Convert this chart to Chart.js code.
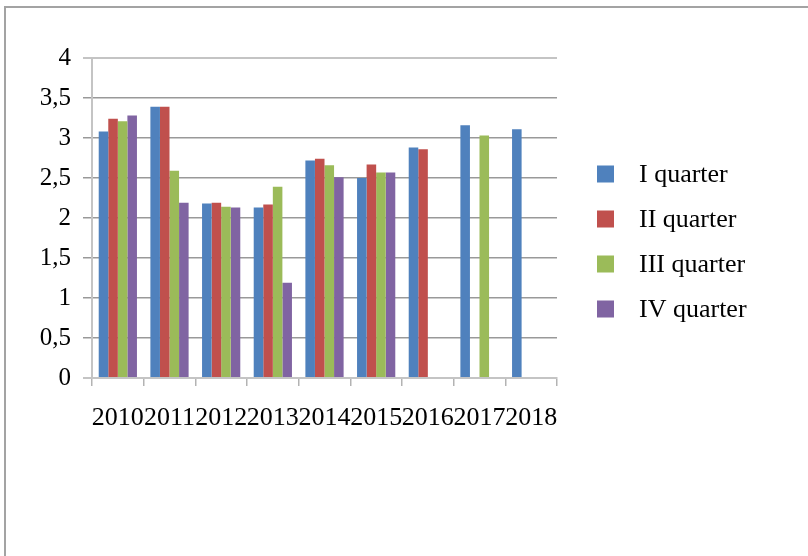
<!DOCTYPE html>
<html>
<head>
<meta charset="utf-8">
<script src="https://cdn.jsdelivr.net/npm/chart.js@4/dist/chart.umd.min.js"></script>
<style>
  html, body { margin: 0; padding: 0; background: #ffffff; }
  #wrap { position: relative; width: 808px; height: 556px; overflow: hidden; }
  #frame {
    position: absolute; left: 4px; top: 6px; width: 900px; height: 600px;
    border-left: 2px solid #a3a3a3; border-top: 2px solid #a3a3a3;
    pointer-events: none;
  }
  canvas { position: absolute; left: 0; top: 0; }
</style>
</head>
<body>
<div id="wrap">
  <canvas id="chart" width="808" height="556"></canvas>
  <div id="frame"></div>
</div>
<script>
// Years on the category axis
const years = ['2010', '2011', '2012', '2013', '2014', '2015', '2016', '2017', '2018'];

// Quarterly values per year (null = no value for that quarter)
const quarter1 = [3.08, 3.39, 2.18, 2.13, 2.72, 2.50, 2.88, 3.16, 3.11];
const quarter2 = [3.24, 3.39, 2.19, 2.17, 2.74, 2.67, 2.86, null, null];
const quarter3 = [3.21, 2.59, 2.14, 2.39, 2.66, 2.57, null, 3.03, null];
const quarter4 = [3.28, 2.19, 2.13, 1.19, 2.51, 2.57, null, null, null];

const seriesNames = ['I quarter', 'II quarter', 'III quarter', 'IV quarter'];
const seriesColors = ['#4F81BD', '#C0504D', '#9BBB59', '#8064A2'];

// Value-axis tick labels use a decimal comma
const yTickLabels = ['0', '0,5', '1', '1,5', '2', '2,5', '3', '3,5', '4'];

const FONT = '"Liberation Serif", "Times New Roman", serif';

// Legend drawn as a vertical list to the right of the plot
const quarterKey = {
  id: 'quarterKey',
  afterDraw(chart, args, opts) {
    const ctx = chart.ctx;
    ctx.save();
    ctx.font = opts.fontSize + 'px ' + FONT;
    ctx.textBaseline = 'middle';
    ctx.textAlign = 'left';
    chart.data.datasets.forEach((ds, i) => {
      const cy = opts.top + i * opts.rowGap;
      ctx.fillStyle = ds.backgroundColor;
      ctx.fillRect(opts.boxX, cy - opts.box / 2, opts.box, opts.box);
      ctx.fillStyle = '#000000';
      ctx.fillText(ds.label, opts.textX, cy + 1);
    });
    ctx.restore();
  }
};

const allSeries = [quarter1, quarter2, quarter3, quarter4];

new Chart(document.getElementById('chart'), {
  type: 'bar',
  data: {
    labels: years,
    datasets: allSeries.map((vals, i) => ({
      label: seriesNames[i],
      data: vals,
      backgroundColor: seriesColors[i],
      borderWidth: 0,
      categoryPercentage: 0.74,
      barPercentage: 1.0
    }))
  },
  options: {
    responsive: false,
    devicePixelRatio: 1,
    animation: false,
    layout: { padding: { left: 0, top: 58, right: 251, bottom: 0 } },
    plugins: {
      legend: { display: false },
      tooltip: { enabled: false },
      quarterKey: { boxX: 597, textX: 639, top: 174, rowGap: 45, box: 17, fontSize: 26 }
    },
    scales: {
      x: {
        offset: true,
        grid: {
          offset: true,
          drawOnChartArea: false,
          drawTicks: true,
          tickLength: 8,
          color: '#b3b3b3',
          lineWidth: 1.5
        },
        border: { display: true, color: '#c4c4c4', width: 2 },
        ticks: {
          autoSkip: false,
          maxRotation: 0,
          minRotation: 0,
          padding: 17,
          color: '#000000',
          font: { family: FONT, size: 26 }
        },
        afterFit(scale) { scale.height = 178; }
      },
      y: {
        min: 0,
        max: 4,
        grid: {
          drawTicks: true,
          tickLength: 9,
          color: (c) => (c.tick && (c.tick.value === 4 || c.tick.value === 0)) ? '#c4c4c4' : '#999999',
          lineWidth: (c) => (c.tick && (c.tick.value === 4 || c.tick.value === 0)) ? 2 : 1.5
        },
        border: { display: true, color: '#c4c4c4', width: 2 },
        ticks: {
          stepSize: 0.5,
          padding: 12,
          color: '#000000',
          font: { family: FONT, size: 25 },
          callback: (v, idx) => yTickLabels[idx]
        },
        afterFit(scale) { scale.width = 92; }
      }
    }
  },
  plugins: [quarterKey]
});
</script>
</body>
</html>
